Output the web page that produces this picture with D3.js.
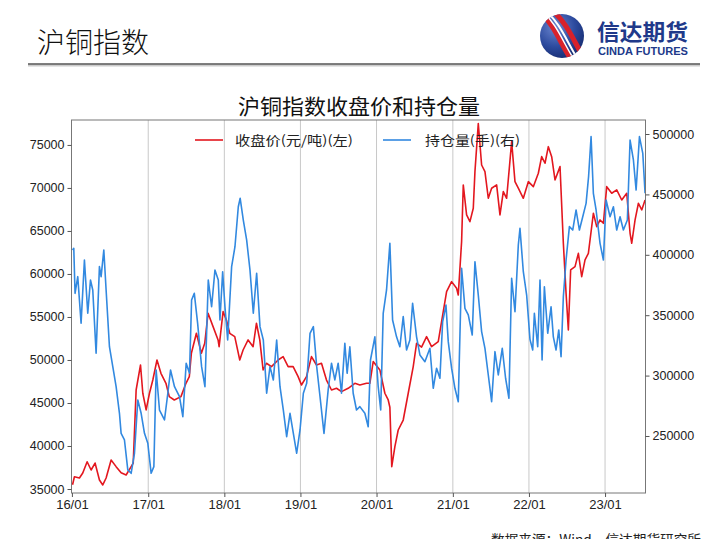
<!DOCTYPE html>
<html>
<head>
<meta charset="utf-8">
<script src="https://cdn.jsdelivr.net/npm/d3@7"></script>
<style>
  body { margin: 0; background: #fff; }
  svg { display: block; }
</style>
</head>
<body>
<div id="chart"></div>
<script>
// 沪铜指数收盘价 (元/吨)
const closePrice = [
  ["2016-01-04",35500],["2016-01-13",36430],["2016-02-06",36280],["2016-02-22",36860],
  ["2016-03-14",38170],["2016-04-02",37210],["2016-04-21",38020],["2016-05-12",36050],
  ["2016-05-28",35470],["2016-06-13",36280],["2016-07-07",38370],["2016-07-31",37600],
  ["2016-08-24",36900],["2016-09-17",36630],["2016-10-11",37600],["2016-10-21",38000],
  ["2016-11-04",46510],["2016-11-25",49420],["2016-12-06",46130],["2016-12-22",44190],
  ["2017-01-07",46130],["2017-01-23",47670],["2017-02-12",50000],["2017-03-03",48450],
  ["2017-03-27",47290],["2017-04-12",45740],["2017-05-06",45350],["2017-06-07",45740],
  ["2017-07-01",47290],["2017-07-17",48060],["2017-07-27",50780],["2017-08-20",53100],
  ["2017-09-13",50780],["2017-09-29",51940],["2017-10-15",55430],["2017-11-08",53880],
  ["2017-12-02",52330],["2017-12-07",51550],["2017-12-26",55620],["2018-01-11",54650],
  ["2018-01-27",53100],["2018-02-20",52710],["2018-03-16",50000],["2018-04-01",51160],
  ["2018-04-25",52330],["2018-05-19",51550],["2018-06-04",54270],["2018-06-20",52330],
  ["2018-07-06",48840],["2018-07-22",49620],["2018-08-15",49230],["2018-09-16",50000],
  ["2018-10-10",50390],["2018-11-03",49230],["2018-11-27",49230],["2018-12-21",48060],
  ["2019-01-06",47090],["2019-01-30",48060],["2019-02-23",50390],["2019-03-19",49420],
  ["2019-04-12",49620],["2019-05-06",47670],["2019-05-30",46510],["2019-06-23",46710],
  ["2019-07-17",46320],["2019-08-18",46710],["2019-09-19",47290],["2019-10-13",47090],
  ["2019-11-14",47290],["2019-11-30",47290],["2019-12-16",49810],["2020-01-17",48840],
  ["2020-02-10",46130],["2020-02-26",45350],["2020-03-05",44500],["2020-03-14",37600],
  ["2020-03-29",39920],["2020-04-14",41860],["2020-05-08",43020],["2020-06-01",46130],
  ["2020-06-25",49230],["2020-07-11",51940],["2020-08-04",51500],["2020-08-28",52710],
  ["2020-09-21",51550],["2020-10-23",52130],["2020-11-08",54460],["2020-12-02",57940],
  ["2020-12-26",59110],["2021-01-19",58340],["2021-01-27",57560],["2021-02-12",63760],
  ["2021-02-20",70350],["2021-03-08",66860],["2021-03-24",66080],["2021-04-09",67640],
  ["2021-04-17",71900],["2021-05-03",77500],["2021-05-19",72670],["2021-06-04",71900],
  ["2021-06-20",68800],["2021-07-06",69970],["2021-07-30",70350],["2021-08-15",66860],
  ["2021-08-31",69570],["2021-09-16",68800],["2021-10-10",75380],["2021-10-26",70730],
  ["2021-11-11",69970],["2021-12-05",68800],["2021-12-29",70730],["2022-01-22",70150],
  ["2022-02-15",71710],["2022-03-03",73640],["2022-03-19",72870],["2022-04-04",74800],
  ["2022-04-20",73640],["2022-05-06",70930],["2022-05-30",72480],["2022-06-15",63570],
  ["2022-06-28",57760],["2022-07-09",53490],["2022-07-20",60470],["2022-08-10",60850],
  ["2022-08-26",62400],["2022-09-11",59690],["2022-09-27",61630],["2022-10-13",62400],
  ["2022-11-06",67060],["2022-11-22",65500],["2022-12-08",66280],["2022-12-24",65890],
  ["2023-01-09",70150],["2023-02-02",69380],["2023-02-26",69770],["2023-03-22",68600],
  ["2023-04-15",69380],["2023-05-01",64730],["2023-05-09",63570],["2023-05-25",66280],
  ["2023-06-10",68220],["2023-06-26",67450],["2023-07-12",68600]
];

// 持仓量 (手)
const openInterest = [
  ["2016-01-04",404000],["2016-01-10",405400],["2016-01-16",368100],["2016-01-29",381900],
  ["2016-02-14",343300],["2016-03-01",395700],["2016-03-17",351600],["2016-03-30",379100],
  ["2016-04-10",370900],["2016-04-26",318500],["2016-05-12",390200],["2016-05-20",381900],
  ["2016-06-02",404000],["2016-06-13",370900],["2016-06-29",323900],["2016-07-15",307400],
  ["2016-07-31",290800],["2016-08-16",268800],["2016-08-24",252200],["2016-09-09",246700],
  ["2016-09-25",221900],["2016-10-11",219100],["2016-10-27",235700],["2016-11-12",279800],
  ["2016-11-28",268800],["2016-12-14",252200],["2016-12-30",244000],["2017-01-15",219100],
  ["2017-01-28",224600],["2017-02-08",304600],["2017-02-24",271500],["2017-03-20",263300],
  ["2017-04-05",285400],["2017-04-18",304600],["2017-05-07",290800],["2017-05-31",282500],
  ["2017-06-16",266000],["2017-07-02",310200],["2017-07-18",301900],["2017-07-28",362600],
  ["2017-08-10",368100],["2017-08-26",343300],["2017-09-14",307400],["2017-09-30",290800],
  ["2017-10-16",379100],["2017-11-01",357000],["2017-11-17",387400],["2017-12-03",379100],
  ["2017-12-11",346000],["2017-12-24",386000],["2018-01-04",357000],["2018-01-17",329500],
  ["2018-02-05",390200],["2018-02-21",406700],["2018-03-09",439800],["2018-03-18",446800],
  ["2018-04-02",428800],["2018-04-18",412300],["2018-05-04",387400],["2018-05-20",351600],
  ["2018-06-05",384700],["2018-06-21",340500],["2018-07-07",329500],["2018-07-23",285400],
  ["2018-08-08",307400],["2018-08-24",296400],["2018-09-09",329500],["2018-09-25",290800],
  ["2018-10-11",271500],["2018-10-27",249400],["2018-11-12",268800],["2018-11-28",252200],
  ["2018-12-14",235700],["2018-12-30",255000],["2019-01-15",285400],["2019-01-31",293600],
  ["2019-02-16",335000],["2019-03-04",340500],["2019-03-20",307400],["2019-04-05",282500],
  ["2019-04-24",252200],["2019-05-14",288100],["2019-05-30",310200],["2019-06-15",296400],
  ["2019-07-01",310200],["2019-07-17",285400],["2019-08-02",326700],["2019-08-13",301900],
  ["2019-08-26",323900],["2019-09-11",285400],["2019-09-27",271500],["2019-10-13",274300],
  ["2019-11-06",268800],["2019-11-22",257700],["2019-12-03",312900],["2019-12-24",332100],
  ["2020-01-09",290800],["2020-01-21",271500],["2020-02-02",351600],["2020-02-18",370900],
  ["2020-03-05",409500],["2020-03-18",346000],["2020-04-06",332100],["2020-04-22",323900],
  ["2020-05-08",348800],["2020-05-24",321200],["2020-06-09",329500],["2020-06-22",359900],
  ["2020-07-11",332100],["2020-07-27",317100],["2020-08-20",311500],["2020-09-13",322600],
  ["2020-09-29",289500],["2020-10-15",306100],["2020-10-31",297800],["2020-11-13",344600],
  ["2020-11-29",358400],["2020-12-10",328100],["2020-12-26",306100],["2021-01-11",289500],
  ["2021-01-27",278400],["2021-02-12",388800],["2021-02-28",355700],["2021-03-16",350200],
  ["2021-04-04",333600],["2021-04-17",394300],["2021-05-03",366700],["2021-05-19",336400],
  ["2021-06-04",322600],["2021-06-20",300500],["2021-07-06",278400],["2021-07-22",319800],
  ["2021-08-07",300500],["2021-08-26",322600],["2021-09-11",297800],["2021-09-27",281200],
  ["2021-10-10",380600],["2021-10-26",352900],["2021-11-11",408100],["2021-11-19",421900],
  ["2021-12-05",386000],["2021-12-21",366700],["2022-01-06",330000],["2022-01-19",321200],
  ["2022-01-27",351600],["2022-02-12",323900],["2022-02-23",379100],["2022-03-05",312900],
  ["2022-03-16",373600],["2022-04-01",335000],["2022-04-17",357000],["2022-04-28",332100],
  ["2022-05-11",321200],["2022-05-24",337800],["2022-06-04",315700],["2022-06-15",365300],
  ["2022-06-28",395700],["2022-07-14",423300],["2022-07-30",420500],["2022-08-15",437100],
  ["2022-08-31",420500],["2022-09-16",431500],["2022-10-02",442600],["2022-10-14",464700],
  ["2022-10-26",497800],["2022-11-06",450900],["2022-11-19",437100],["2022-12-08",409500],
  ["2022-12-24",395700],["2023-01-06",445400],["2023-01-25",431500],["2023-02-10",439800],
  ["2023-02-26",420500],["2023-03-14",431500],["2023-03-30",420500],["2023-04-18",428800],
  ["2023-05-01",495000],["2023-05-17",478500],["2023-05-30",453600],["2023-06-15",497800],
  ["2023-07-01",484000],["2023-07-12",450900]
];

const leftTicks = [35000, 40000, 45000, 50000, 55000, 60000, 65000, 70000, 75000];
const rightTicks = [250000, 300000, 350000, 400000, 450000, 500000];
const yearTicks = ["2016-01-01","2017-01-01","2018-01-01","2019-01-01","2020-01-01","2021-01-01","2022-01-01","2023-01-01"];
const seriesNames = ["收盘价(元/吨)(左)", "持仓量(手)(右)"];

const width = 720, height = 539;
const plot = {left: 71.5, right: 645.5, top: 120, bottom: 493};
const redColor = "#e3171f", blueColor = "#3289e0";
const parse = d3.timeParse("%Y-%m-%d");
const cjk = "'Noto Sans CJK SC', sans-serif";
const latin = "'Liberation Sans', Arial, sans-serif";

const svg = d3.select("#chart").append("svg")
  .attr("width", width)
  .attr("height", height);

svg.append("rect").attr("width", width).attr("height", height).attr("fill", "#fff");

// page header
svg.append("text")
  .attr("x", 37).attr("y", 53)
  .attr("font-family", cjk).attr("font-size", 28).attr("font-weight", 300)
  .attr("fill", "#111")
  .text("沪铜指数");

svg.append("line")
  .attr("x1", 28).attr("x2", 700).attr("y1", 65.5).attr("y2", 65.5)
  .attr("stroke", "#ccc").attr("stroke-width", 2);
svg.append("line")
  .attr("x1", 28).attr("x2", 700).attr("y1", 64).attr("y2", 64)
  .attr("stroke", "#555").attr("stroke-width", 1.3);

// logo
const defs = svg.append("defs");
const grad = defs.append("radialGradient").attr("id", "ball").attr("cx", "35%").attr("cy", "30%").attr("r", "75%");
grad.append("stop").attr("offset", "0%").attr("stop-color", "#6b86cf");
grad.append("stop").attr("offset", "60%").attr("stop-color", "#2c4a9e");
grad.append("stop").attr("offset", "100%").attr("stop-color", "#172d72");
defs.append("clipPath").attr("id", "ballClip")
  .append("circle").attr("cx", 562).attr("cy", 36).attr("r", 22);

const logo = svg.append("g");
logo.append("circle").attr("cx", 562).attr("cy", 36).attr("r", 22).attr("fill", "url(#ball)");
const stripes = logo.append("g").attr("clip-path", "url(#ballClip)");
[0, 7, 14].forEach((o, i) => {
  stripes.append("path")
    .attr("d", `M${538 + o},${10} C${556 + o},${26} ${560 + o},${44} ${574 + o},${64}`)
    .attr("fill", "none")
    .attr("stroke", i === 1 ? "#fff" : "#d8222b")
    .attr("stroke-width", i === 1 ? 2 : 5);
});
stripes.append("path")
  .attr("d", "M541,10 C559,26 563,44 577,64")
  .attr("fill", "none").attr("stroke", "#fff").attr("stroke-width", 1.5);

svg.append("text")
  .attr("x", 597).attr("y", 40)
  .attr("font-family", cjk).attr("font-size", 22).attr("font-weight", 700)
  .attr("fill", "#20398a")
  .attr("textLength", 91).attr("lengthAdjust", "spacingAndGlyphs")
  .text("信达期货");
svg.append("text")
  .attr("x", 598).attr("y", 55)
  .attr("font-family", latin).attr("font-size", 11).attr("font-weight", 700)
  .attr("fill", "#20398a")
  .attr("textLength", 90).attr("lengthAdjust", "spacingAndGlyphs")
  .text("CINDA FUTURES");

// chart title
svg.append("text")
  .attr("x", 359).attr("y", 114)
  .attr("text-anchor", "middle")
  .attr("font-family", cjk).attr("font-size", 21).attr("font-weight", 400)
  .attr("fill", "#111")
  .attr("textLength", 242).attr("lengthAdjust", "spacingAndGlyphs")
  .text("沪铜指数收盘价和持仓量");

// scales
const x = d3.scaleTime()
  .domain([parse("2015-12-30"), parse("2023-07-14")])
  .range([plot.left, plot.right]);
const yLeft = d3.scaleLinear().domain([34535, 77900]).range([plot.bottom, plot.top]);
const yRight = d3.scaleLinear().domain([202800, 511600]).range([plot.bottom, plot.top]);

// year grid lines
svg.append("g")
  .selectAll("line")
  .data(yearTicks.slice(1))
  .join("line")
  .attr("x1", d => x(parse(d))).attr("x2", d => x(parse(d)))
  .attr("y1", plot.top).attr("y2", plot.bottom)
  .attr("stroke", "#c8c8c8").attr("stroke-width", 1);

// series
const clip = defs.append("clipPath").attr("id", "plotClip");
clip.append("rect")
  .attr("x", plot.left).attr("y", plot.top)
  .attr("width", plot.right - plot.left).attr("height", plot.bottom - plot.top);

const lines = svg.append("g").attr("clip-path", "url(#plotClip)");

lines.append("path")
  .datum(closePrice)
  .attr("fill", "none")
  .attr("stroke", redColor)
  .attr("stroke-width", 1.6)
  .attr("stroke-linejoin", "round")
  .attr("d", d3.line().x(d => x(parse(d[0]))).y(d => yLeft(d[1])));

lines.append("path")
  .datum(openInterest)
  .attr("fill", "none")
  .attr("stroke", blueColor)
  .attr("stroke-width", 1.6)
  .attr("stroke-linejoin", "round")
  .attr("d", d3.line().x(d => x(parse(d[0]))).y(d => yRight(d[1])));

// frame
svg.append("rect")
  .attr("x", plot.left).attr("y", plot.top)
  .attr("width", plot.right - plot.left).attr("height", plot.bottom - plot.top)
  .attr("fill", "none").attr("stroke", "#777").attr("stroke-width", 1);

// axes
const styleAxis = g => {
  g.select(".domain").remove();
  g.selectAll(".tick line").attr("stroke", "#555");
  g.selectAll(".tick text").attr("fill", "#222");
};

svg.append("g")
  .attr("transform", `translate(${plot.left},0)`)
  .call(d3.axisLeft(yLeft).tickValues(leftTicks).tickSize(4).tickPadding(3).tickFormat(d3.format("d")))
  .attr("font-family", latin).attr("font-size", 12.5)
  .call(styleAxis);

svg.append("g")
  .attr("transform", `translate(${plot.right},0)`)
  .call(d3.axisRight(yRight).tickValues(rightTicks).tickSize(4).tickPadding(3).tickFormat(d3.format("d")))
  .attr("font-family", latin).attr("font-size", 12.5)
  .call(styleAxis);

svg.append("g")
  .attr("transform", `translate(0,${plot.bottom})`)
  .call(d3.axisBottom(x).tickValues(yearTicks.map(parse)).tickSize(4).tickPadding(3).tickFormat(d3.timeFormat("%y/%m")))
  .attr("font-family", latin).attr("font-size", 13)
  .call(styleAxis);

// legend
const legend = svg.append("g");
const legendItems = [
  {name: seriesNames[0], color: redColor, x0: 195, tx: 235, tw: 118},
  {name: seriesNames[1], color: blueColor, x0: 383, tx: 425, tw: 95}
];
legendItems.forEach(d => {
  legend.append("line")
    .attr("x1", d.x0).attr("x2", d.x0 + 28)
    .attr("y1", 140).attr("y2", 140)
    .attr("stroke", d.color).attr("stroke-width", 1.6);
  legend.append("text")
    .attr("x", d.tx).attr("y", 145)
    .attr("font-family", cjk).attr("font-size", 13)
    .attr("fill", "#222")
    .attr("textLength", d.tw).attr("lengthAdjust", "spacingAndGlyphs")
    .text(d.name);
});

// source note, partly below the page edge as in the original
svg.append("text")
  .attr("x", 491).attr("y", 544)
  .attr("font-family", cjk).attr("font-size", 13)
  .attr("fill", "#222")
  .attr("textLength", 210).attr("lengthAdjust", "spacingAndGlyphs")
  .text("数据来源：Wind，信达期货研究所");
</script>
</body>
</html>
